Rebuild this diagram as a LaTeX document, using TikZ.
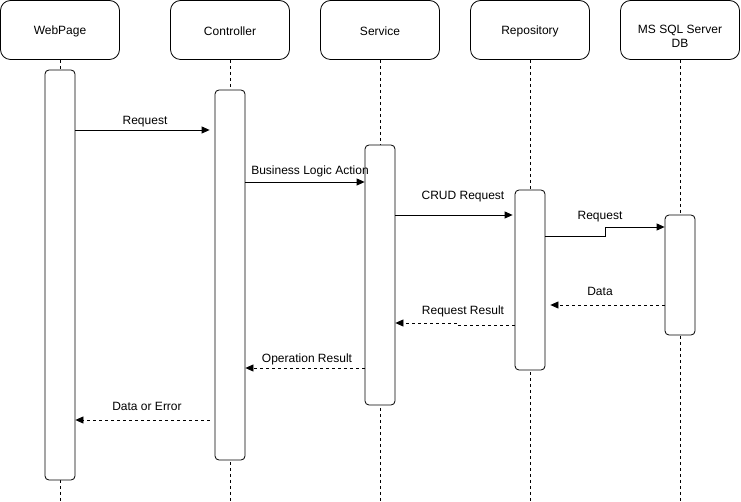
\documentclass[tikz,border=0pt]{standalone}
\usepackage{fontspec}
\setmainfont{Liberation Sans}
\usetikzlibrary{positioning,calc,arrows.meta}

\begin{document}
\begin{tikzpicture}[x=1pt,y=-1pt,
    header/.style={draw, thick, rounded corners=10pt, minimum width=119pt, minimum height=59pt},
    actbar/.style={draw, thick, fill=white, rounded corners=4pt, minimum width=30pt, inner sep=0pt},
    lifeline/.style={dash pattern=on 3pt off 3pt},
    msg/.style={thick, -{Triangle[length=8pt,width=7pt]}},
    reply/.style={msg, dash pattern=on 3pt off 3pt},
    lbl/.style={font=\fontsize{12}{14}\selectfont, inner sep=1pt}]
    \useasboundingbox (0,0) rectangle (741,502);

    % Participants
    \foreach \name/\x in {web/60, ctrl/230, svc/380, repo/530, db/680} {
        \node [header] (\name) at (\x,30) {};
        \draw [lifeline] (\name.south) -- (\name.south |- 0,502);
    }
    \foreach \name/\txt in {web/WebPage, ctrl/Controller, svc/Service, repo/Repository} {
        \node [lbl] (\name txt) at ([yshift=-1.5pt]\name.center) {\txt};
    }
    \node [lbl, align=center] (dbtxt) at ([yshift=-6pt]db.center) {MS SQL Server\\DB};

    % Activation bars
    \foreach \name/\x/\top/\bot in {webact/60/70/480, ctrlact/230/90/460, svcact/380/145/405, repoact/530/190/370, dbact/680/215/335} {
        \node [actbar, minimum height=\bot-\top] (\name) at (\x,{(\top+\bot)/2}) {};
    }

    % Calls
    \draw [msg, shorten >=5pt] (webact.east |- 0,130) -- (ctrlact.west |- 0,130);
    \node [lbl] (reqlbl) at (145,121.5) {Request};
    \draw [msg] (ctrlact.east |- 0,182) -- (svcact.west |- 0,182);
    \node [lbl] (bizlbl) at (310,171.5) {Business Logic Action};
    \draw [msg, shorten >=2pt] (svcact.east |- 0,215) -- (repoact.west |- 0,215);
    \node [lbl] (crudlbl) at (463,196.5) {CRUD Request};
    \draw [msg] (repoact.east |- 0,236) -- (605,236) -- (605,227) -- (dbact.west |- 0,227);
    \node [lbl] (dbreqlbl) at (600,216.5) {Request};

    % Replies
    \draw [reply, shorten >=5pt] (dbact.west |- 0,305) -- (repoact.east |- 0,305);
    \node [lbl] (datalbl) at (600,291.5) {Data};
    \draw [reply] (repoact.west |- 0,325) -- (456,325) -- (456,323) -- (svcact.east |- 0,323);
    \node [lbl] (reslbl) at (463,311.5) {Request Result};
    \draw [reply] (svcact.west |- 0,368) -- (ctrlact.east |- 0,368);
    \node [lbl] (oplbl) at (307,359.5) {Operation Result};
    \draw [reply, shorten <=5pt] (ctrlact.west |- 0,420) -- (webact.east |- 0,420);
    \node [lbl] (errlbl) at (147,406.5) {Data or Error};
\end{tikzpicture}
\end{document}
